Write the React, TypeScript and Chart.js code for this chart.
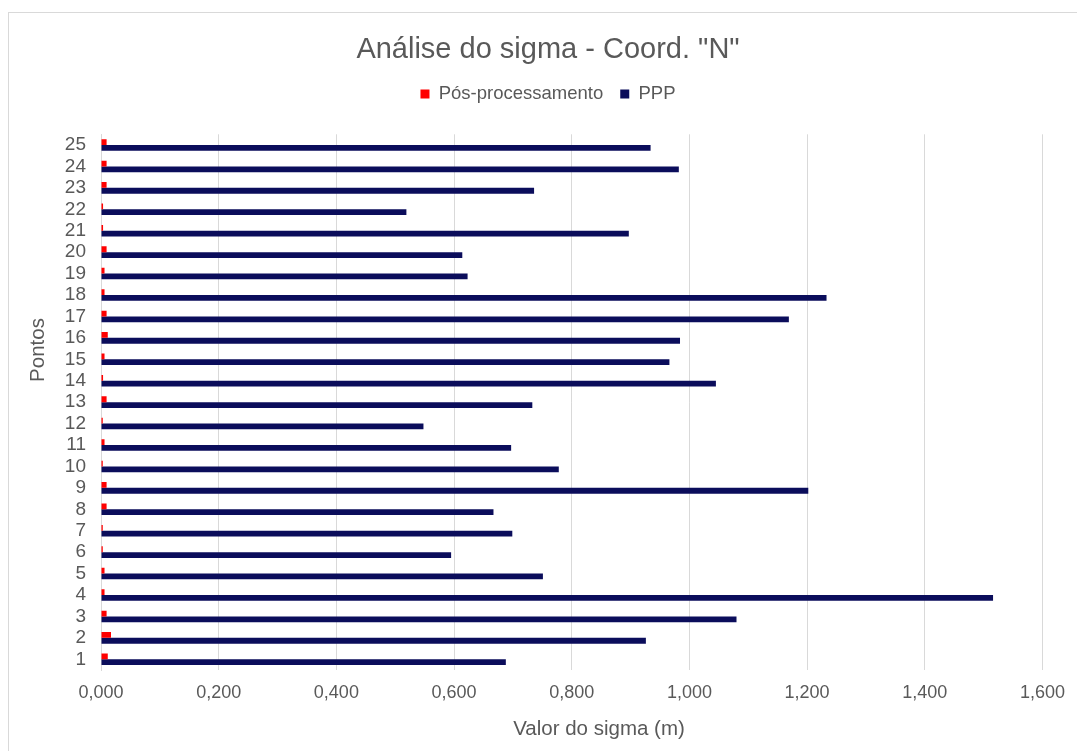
import React, { useEffect, useRef } from "react";
import { Chart, registerables } from "chart.js";

Chart.register(...registerables);

// Point numbers (bottom to top in the chart)
const pontos = [
  "1", "2", "3", "4", "5", "6", "7", "8", "9", "10", "11", "12", "13",
  "14", "15", "16", "17", "18", "19", "20", "21", "22", "23", "24", "25",
];

// Sigma of the N coordinate (m) from post-processing
const posProcessamento = [
  0.0115, 0.017, 0.0095, 0.006, 0.006, 0.003, 0.003, 0.0095, 0.0095, 0.003,
  0.006, 0.003, 0.0095, 0.0035, 0.006, 0.0115, 0.0095, 0.006, 0.006, 0.0095,
  0.0035, 0.0035, 0.0095, 0.0095, 0.0095,
];

// Sigma of the N coordinate (m) from PPP
const ppp = [
  0.688, 0.926, 1.08, 1.516, 0.751, 0.595, 0.699, 0.667, 1.202, 0.778,
  0.697, 0.548, 0.733, 1.045, 0.966, 0.984, 1.169, 1.233, 0.623, 0.614,
  0.897, 0.519, 0.736, 0.982, 0.934,
];

// X axis range and tick step
const xMin = 0;
const xMax = 1.6;
const xStep = 0.2;

const FONT = '"Liberation Sans", Arial, sans-serif';
const TEXT = "#595959";
const GRID = "#d9d9d9";

// Axis titles drawn on the canvas
const axisTitles = {
  id: "axisTitles",
  afterDraw(chart: any) {
    const { ctx } = chart;
    ctx.save();
    ctx.fillStyle = TEXT;
    ctx.font = `20.5px ${FONT}`;
    ctx.textAlign = "center";
    ctx.textBaseline = "middle";
    ctx.fillText("Valor do sigma (m)", 599, 729);
    ctx.translate(38.5, 350);
    ctx.rotate(-Math.PI / 2);
    ctx.fillText("Pontos", 0, 0);
    ctx.restore();
  },
};

export default function App() {
  const ref = useRef<HTMLCanvasElement>(null);

  useEffect(() => {
    if (!ref.current) return;
    // Top-to-bottom order: 25 ... 1
    const labels = [...pontos].reverse();
    const red = [...posProcessamento].reverse();
    const navy = [...ppp].reverse();

    const chart = new Chart(ref.current, {
      type: "bar",
      data: {
        labels,
        datasets: [
          {
            label: "Pós-processamento",
            data: red,
            xAxisID: "x",
            yAxisID: "y",
            backgroundColor: "#ff0000",
            borderWidth: 0,
            categoryPercentage: 0.54,
            barPercentage: 1,
          },
          {
            label: "PPP",
            data: navy,
            xAxisID: "x",
            yAxisID: "y",
            backgroundColor: "#0b0d5b",
            borderWidth: 0,
            categoryPercentage: 0.54,
            barPercentage: 1,
          },
        ],
      },
      options: {
        indexAxis: "y",
        responsive: false,
        animation: false,
        devicePixelRatio: 1,
        // wide left padding keeps title and legend centred on the frame
        layout: { padding: { top: 12, left: 51, right: 32, bottom: 0 } },
        plugins: {
          title: {
            display: true,
            text: 'Análise do sigma - Coord. "N"',
            color: TEXT,
            font: { family: FONT, size: 29, weight: "normal", lineHeight: 1.2 },
            padding: { top: 21, bottom: 0 },
          },
          legend: {
            display: true,
            position: "top",
            labels: {
              color: TEXT,
              font: { family: FONT, size: 18.5 },
              boxWidth: 9,
              boxHeight: 9,
              padding: 17,
            },
          },
          tooltip: { enabled: false },
        },
        scales: {
          y: {
            type: "category",
            position: "left",
            ticks: {
              color: TEXT,
              font: { family: FONT, size: 19 },
              padding: 15,
              autoSkip: false,
            },
            grid: { display: false, drawTicks: false },
            border: { display: true, color: GRID, width: 1 },
            afterFit: (scale: any) => {
              scale.width = 50;
            },
          },
          x: {
            type: "linear",
            position: "bottom",
            min: xMin,
            max: xMax,
            ticks: {
              stepSize: xStep,
              color: TEXT,
              font: { family: FONT, size: 18 },
              padding: 12,
              callback: (v: any) => Number(v).toFixed(3).replace(".", ","),
            },
            grid: { color: GRID, lineWidth: 1, drawTicks: false },
            border: { display: false },
            afterFit: (scale: any) => {
              scale.height = 81;
            },
          },
          // blank band between the legend and the plot area
          xTop: {
            type: "linear",
            axis: "x",
            position: "top",
            min: xMin,
            max: xMax,
            display: true,
            ticks: { display: false },
            grid: { display: false, drawTicks: false },
            border: { display: false },
            afterFit: (scale: any) => {
              scale.height = 21;
            },
          },
        },
      },
      plugins: [axisTitles],
    });
    return () => chart.destroy();
  }, []);

  return (
    <div
      style={{
        position: "absolute",
        left: 0,
        top: 0,
        width: 1077,
        height: 751,
        overflow: "hidden",
        background: "#ffffff",
      }}
    >
      <div
        style={{
          position: "absolute",
          left: 8,
          top: 12,
          width: 1200,
          height: 900,
          border: `1px solid ${GRID}`,
        }}
      />
      <canvas
        ref={ref}
        width={1077}
        height={751}
        style={{ position: "absolute", left: 0, top: 0, width: 1077, height: 751 }}
      />
    </div>
  );
}
